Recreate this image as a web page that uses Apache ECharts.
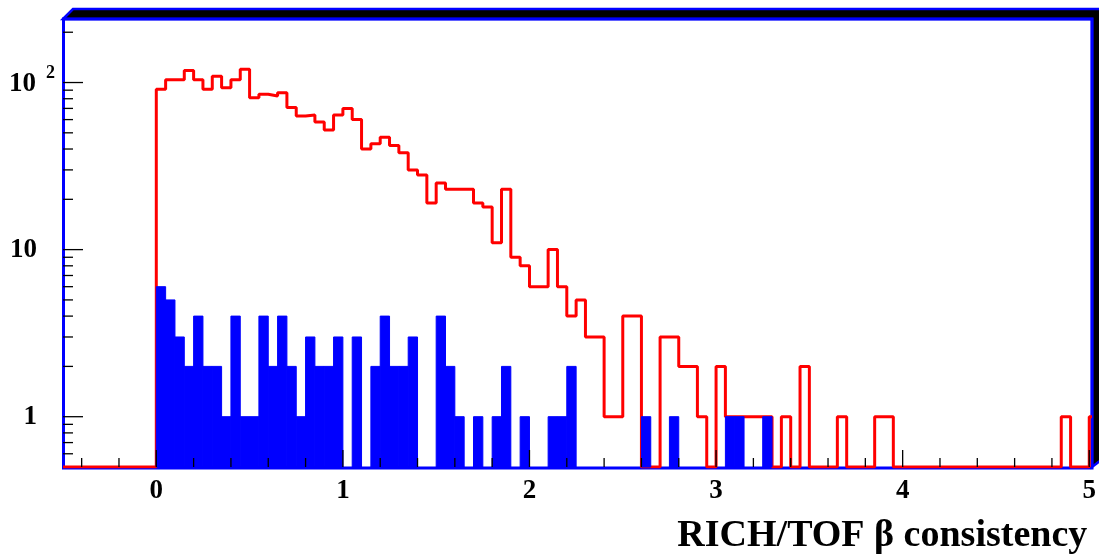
<!DOCTYPE html>
<html>
<head>
<meta charset="utf-8">
<script src="https://cdn.jsdelivr.net/npm/echarts@6/dist/echarts.min.js"></script>
<style>
html,body{margin:0;padding:0;background:#fff;}
#chart{width:1099px;height:557px;}
</style>
</head>
<body>
<div id="chart"></div>
<script>
// ---- data ----
const BIN_START = 0;          // first bin low edge
const BIN_WIDTH = 0.05;       // bin width
const X_MIN = -0.5, X_MAX = 5;
const Y_MIN = 0.5, Y_MAX = 240;

// red histogram: counts per bin starting at 0.00 (bin 100 = 5.00-5.05, clipped)
const redCounts = [
  91,104,104,118,104, 91,109, 93,104,120,
  81, 85, 83, 87, 71, 63, 64, 58, 52, 64,
  70, 60, 40, 43, 47, 42, 38, 30, 28, 19,
  25, 23, 23, 23, 19, 18, 11, 23,  9,  8,
   6,  6, 10,  6,  4,  5,  3,  3,  1,  1,
   4,  4,  0,  0,  3,  3,  2,  2,  1,  0,
   2,  1,  1,  1,  1,  1,  0,  1,  0,  2,
   0,  0,  0,  1,  0,  0,  0,  1,  1,  0,
   0,  0,  0,  0,  0,  0,  0,  0,  0,  0,
   0,  0,  0,  0,  0,  0,  0,  1,  0,  0,
   1
];

// blue (filled) histogram: counts per bin starting at 0.00
const blueCounts = [
  6, 5, 3, 2, 4, 2, 2, 1, 4, 1,
  1, 4, 2, 4, 2, 1, 3, 2, 2, 3,
  0, 3, 0, 2, 4, 2, 2, 3, 0, 0,
  4, 2, 1, 0, 1, 0, 1, 2, 0, 1,
  0, 0, 1, 1, 2, 0, 0, 0, 0, 0,
  0, 0, 1, 0, 0, 1, 0, 0, 0, 0,
  0, 1, 1, 0, 0, 1
];

const xMajorTicks = [0, 1, 2, 3, 4, 5];
const xMinorTicks = [-0.4,-0.2,0.2,0.4,0.6,0.8,1.2,1.4,1.6,1.8,2.2,2.4,2.6,2.8,3.2,3.4,3.6,3.8,4.2,4.4,4.6,4.8];
const yMajorTicks = [1, 10, 100];
const yMinorTicks = [0.6,0.7,0.8,0.9,2,3,4,5,6,7,8,9,20,30,40,50,60,70,80,90,200];
const xTickLabels = ['0', '1', '2', '3', '4', '5'];
const yTickLabels = ['1', '10'];
const yTopLabel = ['10', '2'];
const xTitle = 'RICH/TOF \u03b2 consistency';

// ---- layout ----
const W = 1099, H = 557;
const GRID = { left: 63, right: 7, top: 19, bottom: 90 };
const FONT = 'Liberation Serif, Times New Roman, serif';
const L = GRID.left, T = GRID.top, R = W - GRID.right, B = H - GRID.bottom;
const SH = 10; // shadow depth of the frame

// ---- build series data ----
const floorOf = v => (v > 0 ? v : Y_MIN);
const redLine = [[X_MIN, Y_MIN]];
redCounts.forEach((v, i) => redLine.push([BIN_START + i * BIN_WIDTH, floorOf(v)]));
redLine.push([BIN_START + redCounts.length * BIN_WIDTH, Y_MIN]);

const blueBars = [];
blueCounts.forEach((v, i) => {
  if (v > 0) blueBars.push([BIN_START + i * BIN_WIDTH, BIN_START + (i + 1) * BIN_WIDTH, v]);
});

const near = (a, b) => Math.abs(a - b) < 1e-6 * Math.max(1, Math.abs(b));

const chart = echarts.init(document.getElementById('chart'), null, { renderer: 'canvas' });

chart.setOption({
  animation: false,
  backgroundColor: '#ffffff',
  grid: { left: GRID.left, right: GRID.right, top: GRID.top, bottom: GRID.bottom, containLabel: false },
  graphic: [
    {
      type: 'polygon', z: 0,
      shape: { points: [[L, T], [L + SH, T - SH], [W + 6, T - SH], [W + 6, B - SH], [R, B], [R, T]] },
      style: { fill: '#000000', stroke: '#0000ff', lineWidth: 2.5 }
    },
    {
      type: 'rect', z: 0,
      shape: { x: L + 0.5, y: T, width: R - L - 0.5, height: B - T + 1 },
      style: { fill: null, stroke: '#0000ff', lineWidth: 3 }
    }
  ],
  xAxis: {
    type: 'value', min: X_MIN, max: X_MAX,
    axisLine: { show: false }, axisTick: { show: false }, splitLine: { show: false },
    axisLabel: {
      margin: 11, color: '#000', fontFamily: FONT, fontWeight: 'bold', fontSize: 27,
      formatter: v => { const k = xMajorTicks.findIndex(t => near(v, t)); return k >= 0 ? xTickLabels[k] : ''; }
    },
    name: xTitle, nameLocation: 'end', nameGap: 0,
    nameTextStyle: {
      align: 'right', verticalAlign: 'top', padding: [50, 2, 0, 0],
      color: '#000', fontFamily: FONT, fontWeight: 'bold', fontSize: 38
    }
  },
  yAxis: [
    {
      type: 'log', logBase: 10, min: Y_MIN, max: Y_MAX, position: 'left',
      axisLine: { show: false }, axisTick: { show: false }, splitLine: { show: false },
      axisLabel: {
        margin: 26, color: '#000', fontFamily: FONT, fontWeight: 'bold', fontSize: 27,
        formatter: v => near(v, 1) ? yTickLabels[0] : (near(v, 10) ? yTickLabels[1] : '')
      }
    },
    {
      type: 'log', logBase: 10, min: Y_MIN, max: Y_MAX, position: 'left', offset: 0,
      axisLine: { show: false }, axisTick: { show: false }, splitLine: { show: false },
      axisLabel: {
        margin: 8, color: '#000',
        formatter: v => near(v, 100) ? '{a|' + yTopLabel[0] + '}{s|' + yTopLabel[1] + '}' : '',
        rich: {
          a: { fontFamily: FONT, fontWeight: 'bold', fontSize: 27, color: '#000', padding: [4, 0, 0, 0] },
          s: { fontFamily: FONT, fontWeight: 'bold', fontSize: 18, color: '#000', padding: [0, 0, 18, 10] }
        }
      }
    }
  ],
  series: [
    {
      type: 'line', name: 'all', data: redLine, step: 'end', symbol: 'none',
      lineStyle: { color: '#ff0000', width: 3 }, z: 2, clip: true
    },
    {
      type: 'custom', name: 'selected', data: blueBars, z: 3,
      encode: { x: [0, 1], y: 2 },
      renderItem: (params, api) => {
        const p0 = api.coord([api.value(0), Y_MIN]);
        const p1 = api.coord([api.value(1), api.value(2)]);
        return {
          type: 'rect',
          shape: { x: p0[0], y: p1[1], width: p1[0] - p0[0], height: p0[1] - p1[1] },
          style: { fill: '#0000ff', stroke: '#0000ff', lineWidth: 1 }
        };
      }
    },
    {
      type: 'custom', name: 'ticks', data: [[0, 1]], z: 5, silent: true,
      encode: { x: 0, y: 1 },
      renderItem: (params, api) => {
        const children = [];
        const origin = api.coord([X_MIN, Y_MIN]);
        const yb = origin[1], xl = origin[0];
        const add = (x1, y1, x2, y2) => children.push({
          type: 'line', shape: { x1, y1, x2, y2 }, style: { stroke: '#000', lineWidth: 1.3 }
        });
        xMajorTicks.forEach(v => { const x = api.coord([v, Y_MIN])[0]; add(x, yb, x, yb - 17); });
        xMinorTicks.forEach(v => { const x = api.coord([v, Y_MIN])[0]; add(x, yb, x, yb - 9); });
        yMajorTicks.forEach(v => { const y = api.coord([X_MIN, v])[1]; add(xl, y, xl + 20, y); });
        yMinorTicks.forEach(v => { const y = api.coord([X_MIN, v])[1]; add(xl, y, xl + 10, y); });
        return { type: 'group', children };
      }
    }
  ]
});
</script>
</body>
</html>
